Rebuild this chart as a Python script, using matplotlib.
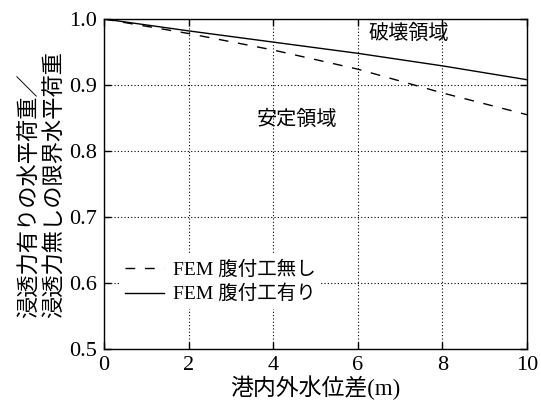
import matplotlib
matplotlib.use("Agg")
import matplotlib.pyplot as plt

plt.rcParams['font.family'] = ['Liberation Serif', 'Noto Sans CJK JP']

# Water level difference (m) and load ratio
x = [0, 2, 4, 6, 8, 10]
ratio_without = [1.0, 0.978, 0.953, 0.924, 0.888, 0.855]   # FEM 腹付工無し
ratio_with = [1.0, 0.982, 0.965, 0.948, 0.929, 0.908]      # FEM 腹付工有り

xticks = [0, 2, 4, 6, 8, 10]
yticks = [0.5, 0.6, 0.7, 0.8, 0.9, 1.0]

fig = plt.figure(figsize=(5.41, 4.08), dpi=100)
ax = fig.add_axes([104/541, 1 - 349/408, (527-104)/541, (349-19)/408])

ax.plot(x, ratio_without, color='black', lw=1.0, ls=(0, (7, 7)), label='FEM 腹付工無し')
ax.plot(x, ratio_with, color='black', lw=1.0, ls='-', label='FEM 腹付工有り')

ax.set_xlim(0, 10)
ax.set_ylim(0.5, 1.0)
ax.set_xticks(xticks)
ax.set_yticks(yticks)
ax.set_xticklabels([str(t) for t in xticks])
ax.set_yticklabels([f"{t:.1f}" for t in yticks])
ax.tick_params(direction='in', top=True, right=True, length=5, width=1,
               labelsize=16, pad=5)
ax.grid(True, ls=(0, (1, 2)), color='black', lw=0.8)
for s in ax.spines.values():
    s.set_linewidth(1.0)

ax.set_xlabel('港内外水位差(m)', fontsize=16.5, labelpad=0)
ax.set_ylabel('浸透力有りの水平荷重／\n浸透力無しの限界水平荷重', fontsize=16,
              linespacing=1.3, labelpad=2, multialignment='left')

ax.text(7.21, 0.977, '破壊領域', fontsize=14.5, ha='center', va='center')
ax.text(4.56, 0.847, '安定領域', fontsize=14.5, ha='center', va='center')

leg = ax.legend(loc='center left', bbox_to_anchor=(0.036, 0.203), frameon=True,
                fontsize=14, handlelength=2.0, handletextpad=0.45,
                borderpad=0.3, borderaxespad=0, labelspacing=0.3)
leg.get_frame().set_edgecolor('none')
leg.get_frame().set_facecolor('white')
leg.get_frame().set_alpha(1.0)

fig.savefig('out.png', dpi=100)
